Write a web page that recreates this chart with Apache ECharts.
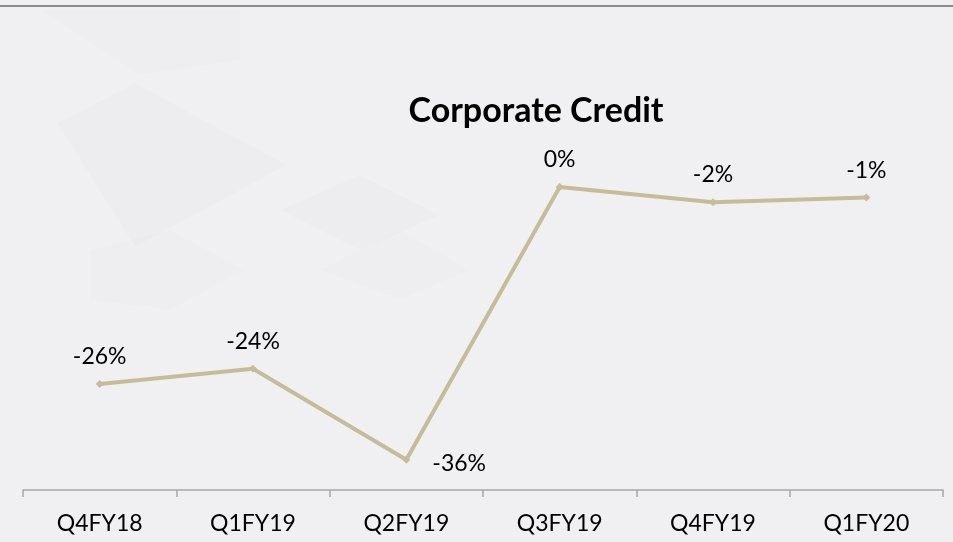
<!DOCTYPE html>
<html>
<head>
<meta charset="utf-8">
<script src="https://cdn.jsdelivr.net/npm/echarts@6/dist/echarts.min.js"></script>
<style>
  html, body { margin: 0; padding: 0; background: #f0f0f2; }
  #main { width: 953px; height: 542px; }
</style>
</head>
<body>
<div id="main"></div>
<script>
// quarters along the x axis
var quarters = ['Q4FY18', 'Q1FY19', 'Q2FY19', 'Q3FY19', 'Q4FY19', 'Q1FY20'];
// growth in % (labels are rounded)
var growth = [-26, -24, -36, 0, -2, -1.4];

var lineColor = '#c5bd98';
var font = 'Lato';

var chart = echarts.init(document.getElementById('main'));

var seriesData = growth.map(function (v, i) {
    var item = { value: v };
    // the -36% label sits to the right of its point
    if (i === 2) {
        item.label = { position: 'right', distance: 22, offset: [0, 4] };
    }
    return item;
});

var option = {
    backgroundColor: '#f0f0f2',
    animation: false,
    title: {
        text: 'Corporate Credit',
        left: 531,
        top: 89,
        textAlign: 'center',
        textStyle: { fontFamily: font, fontWeight: 'bold', fontSize: 34, color: '#000' }
    },
    graphic: [
        // faint background shapes
        { type: 'polygon', silent: true, shape: { points: [[57, 123], [135, 83], [287, 165], [135, 247]] }, style: { fill: 'rgba(0,0,0,0.01)' } },
        { type: 'polygon', silent: true, shape: { points: [[40, 10], [240, 10], [240, 60], [140, 75]] }, style: { fill: 'rgba(0,0,0,0.008)' } },
        { type: 'polygon', silent: true, shape: { points: [[280, 210], [360, 175], [440, 215], [360, 250]] }, style: { fill: 'rgba(0,0,0,0.012)' } },
        { type: 'polygon', silent: true, shape: { points: [[90, 250], [170, 230], [245, 270], [170, 310], [90, 300]] }, style: { fill: 'rgba(0,0,0,0.008)' } },
        { type: 'polygon', silent: true, shape: { points: [[320, 270], [400, 230], [470, 270], [400, 300]] }, style: { fill: 'rgba(0,0,0,0.008)' } },
        // top rule
        { type: 'line', silent: true, shape: { x1: 0, y1: 6, x2: 953, y2: 6 }, style: { stroke: '#8c8c8c', lineWidth: 2 } }
    ],
    grid: { left: 23, right: 10, top: 187, bottom: 52 },
    xAxis: {
        type: 'category',
        data: quarters,
        boundaryGap: true,
        axisLine: { onZero: false, lineStyle: { color: '#a6a6a6', width: 1.5 } },
        axisTick: { show: true, length: 7, lineStyle: { color: '#a6a6a6', width: 1.5 } },
        axisLabel: { color: '#000', fontFamily: font, fontSize: 23, margin: 22 }
    },
    yAxis: {
        type: 'value',
        min: -40,
        max: 0,
        show: false,
        splitLine: { show: false }
    },
    series: [{
        type: 'line',
        data: seriesData,
        symbol: 'diamond',
        symbolSize: 8,
        itemStyle: { color: lineColor },
        lineStyle: { color: lineColor, width: 4 },
        label: {
            show: true,
            position: 'top',
            distance: 12,
            color: '#000',
            fontFamily: font,
            fontSize: 23,
            formatter: function (p) { return Math.round(p.value) + '%'; }
        }
    }]
};

chart.setOption(option);
</script>
</body>
</html>
